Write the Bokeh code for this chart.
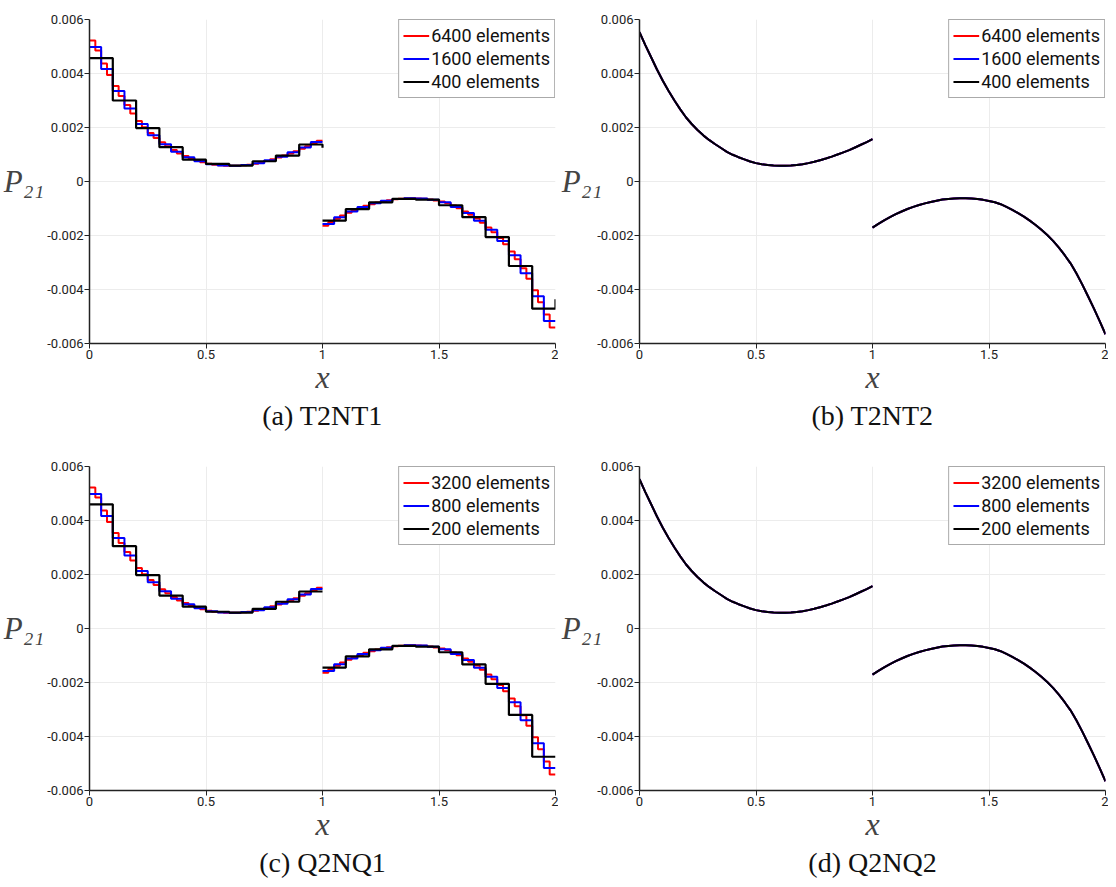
import numpy as np
from bokeh.plotting import figure
from bokeh.layouts import column, row
from bokeh.models import Range1d, FixedTicker, CustomJSTickFormatter, Title
from bokeh.embed import file_html
from bokeh.resources import INLINE

# ---------------- data (values x 1e-3) ----------------
# fine (6400 / 3200 elements) piecewise-constant values, 40 cells per half
red_left = [5.22, 4.85, 4.37, 3.94, 3.54, 3.17, 2.83, 2.52, 2.24, 2.01,
            1.80, 1.61, 1.45, 1.31, 1.17, 1.04, 0.94, 0.86, 0.78, 0.71,
            0.66, 0.62, 0.60, 0.585, 0.58, 0.585, 0.60, 0.625, 0.66, 0.70,
            0.76, 0.82, 0.885, 0.96, 1.04, 1.12, 1.21, 1.31, 1.41, 1.51]
red_right = [-1.64, -1.50, -1.38, -1.26, -1.16, -1.06, -0.98, -0.90, -0.84, -0.78,
             -0.73, -0.69, -0.655, -0.635, -0.625, -0.62, -0.625, -0.64, -0.665, -0.70,
             -0.745, -0.80, -0.89, -0.99, -1.11, -1.23, -1.37, -1.53, -1.70, -1.88,
             -2.09, -2.32, -2.59, -2.88, -3.21, -3.60, -4.03, -4.47, -4.93, -5.41]
# medium (1600 / 800 elements), 20 cells per half
blue_left = [4.98, 4.17, 3.35, 2.70, 2.13, 1.71, 1.38, 1.10, 0.90, 0.75,
             0.64, 0.59, 0.58, 0.61, 0.68, 0.79, 0.92, 1.08, 1.26, 1.46]
blue_right = [-1.57, -1.32, -1.11, -0.94, -0.81, -0.71, -0.645, -0.62, -0.63, -0.68,
              -0.77, -0.94, -1.17, -1.45, -1.79, -2.20, -2.73, -3.40, -4.25, -5.17]
# coarse (400 / 200 elements), 10 cells per half
black_left_a = [4.57, 3.00, 1.98, 1.27, 0.81, 0.65, 0.59, 0.75, 0.96, 1.37]
black_right_a = [-1.45, -1.02, -0.77, -0.64, -0.67, -0.88, -1.32, -2.06, -3.13, -4.71]
black_end_a = [1.25, -4.36]          # small end jumps seen at x=1 and x=2 in (a)
black_left_c = [4.60, 3.05, 1.98, 1.22, 0.81, 0.62, 0.59, 0.73, 0.99, 1.37]
black_right_c = [-1.45, -1.03, -0.77, -0.64, -0.67, -0.88, -1.33, -2.05, -3.20, -4.75]
black_end_c = [1.37, -4.75]

# smooth solutions (continuous elements), sampled every 0.025
smooth_left = [5.53, 5.05, 4.60, 4.15, 3.73, 3.35, 3.00, 2.67, 2.37, 2.12,
               1.90, 1.70, 1.53, 1.38, 1.24, 1.10, 0.99, 0.90, 0.82, 0.74,
               0.68, 0.64, 0.61, 0.59, 0.58, 0.58, 0.59, 0.61, 0.64, 0.68,
               0.73, 0.79, 0.85, 0.92, 1.00, 1.08, 1.16, 1.26, 1.36, 1.46, 1.57]
smooth_right = [-1.71, -1.57, -1.44, -1.32, -1.21, -1.11, -1.02, -0.94, -0.87, -0.81,
                -0.76, -0.71, -0.67, -0.645, -0.63, -0.62, -0.62, -0.63, -0.65, -0.68,
                -0.72, -0.77, -0.84, -0.94, -1.05, -1.17, -1.30, -1.45, -1.61, -1.79,
                -1.98, -2.20, -2.45, -2.73, -3.03, -3.40, -3.81, -4.25, -4.70, -5.17, -5.66]

labels_T = ["6400 elements", "1600 elements", "400 elements"]
labels_Q = ["3200 elements", "800 elements", "200 elements"]
captions = ["(a) T2NT1", "(b) T2NT2", "(c) Q2NQ1", "(d) Q2NQ2"]
y_ticks = [-0.006, -0.004, -0.002, 0.0, 0.002, 0.004, 0.006]
x_ticks = [0, 0.5, 1, 1.5, 2]

RED, BLUE, BLACK = "#ff0000", "#0000ff", "#000000"
SANS = "Roboto"
SERIF = "Liberation Serif"


def make_fig(caption, bottom_border, ylabel_standoff):
    p = figure(frame_width=466, frame_height=324, output_backend="svg", toolbar_location=None,
               x_range=Range1d(0, 2), y_range=Range1d(-0.006, 0.006),
               min_border_left=60, min_border_right=3, min_border_top=19,
               min_border_bottom=bottom_border)
    p.outline_line_color = None
    for ax in (p.xaxis[0], p.yaxis[0]):
        ax.axis_line_color = "#222222"
        ax.axis_line_width = 1.5
        ax.major_tick_line_color = "#222222"
        ax.major_tick_out = 5
        ax.major_tick_in = 0
        ax.minor_tick_line_color = None
        ax.major_label_text_font = SANS
        ax.major_label_text_font_size = "13px"
        ax.major_label_text_color = "#222222"
    p.yaxis.ticker = FixedTicker(ticks=y_ticks)
    p.xaxis.ticker = FixedTicker(ticks=x_ticks)
    p.yaxis.formatter = CustomJSTickFormatter(code="return Math.abs(tick) < 1e-12 ? '0' : tick.toFixed(3);")
    p.xaxis.formatter = CustomJSTickFormatter(code="return String(Math.round(tick*10)/10);")
    p.xaxis.major_label_standoff = 1
    p.yaxis.major_label_standoff = 1
    p.xaxis.axis_label = "x"
    p.xaxis.axis_label_text_font = SERIF
    p.xaxis.axis_label_text_font_style = "italic"
    p.xaxis.axis_label_text_font_size = "32px"
    p.xaxis.axis_label_standoff = -3
    p.yaxis.axis_label = "P₂₁"
    p.yaxis.axis_label_orientation = "horizontal"
    p.yaxis.axis_label_text_font = SERIF
    p.yaxis.axis_label_text_font_style = "italic"
    p.yaxis.axis_label_text_font_size = "31px"
    p.yaxis.axis_label_standoff = ylabel_standoff
    p.grid.grid_line_color = "#ececec"
    p.grid.grid_line_width = 1
    p.add_layout(Title(text=caption, align="center", text_font=SERIF,
                       text_font_size="28px", text_font_style="normal",
                       text_color="#111111", standoff=1), "below")
    return p


def steps(p, vals, x0, h, end, color, label, width=2):
    n = len(vals)
    xs = [x0 + h * i for i in range(n + 1)]
    ys = [v * 1e-3 for v in vals] + [end * 1e-3]
    p.step(xs, ys, mode="after", line_color=color, line_width=width, legend_label=label)


def smooth(p, vals, x0, color, label, width=2):
    xs = [x0 + 0.025 * i for i in range(len(vals))]
    p.line(xs, [v * 1e-3 for v in vals], line_color=color, line_width=width, legend_label=label)


def style_legend(p):
    lg = p.legend[0]
    lg.location = "top_right"
    lg.margin = 0
    lg.padding = 4
    lg.spacing = 0
    lg.label_height = 23
    lg.glyph_height = 23
    lg.glyph_width = 26
    lg.label_standoff = 2
    lg.label_text_font = SANS
    lg.label_text_font_size = "18px"
    lg.label_text_color = "#111111"
    lg.border_line_color = "#555555"
    lg.border_line_width = 1.5
    lg.background_fill_alpha = 1


def discontinuous(caption, labels, bl, br, bend, bottom):
    p = make_fig(caption, bottom, 0)
    steps(p, red_left, 0.0, 0.025, red_left[-1], RED, labels[0])
    steps(p, red_right, 1.0, 0.025, red_right[-1], RED, labels[0])
    steps(p, blue_left, 0.0, 0.05, blue_left[-1], BLUE, labels[1])
    steps(p, blue_right, 1.0, 0.05, blue_right[-1], BLUE, labels[1])
    steps(p, bl, 0.0, 0.1, bend[0], BLACK, labels[2], 2.2)
    steps(p, br, 1.0, 0.1, bend[1], BLACK, labels[2], 2.2)
    style_legend(p)
    return p


def continuous(caption, labels, bottom):
    p = make_fig(caption, bottom, -8)
    for c, lab in ((RED, labels[0]), (BLUE, labels[1]), (BLACK, labels[2])):
        smooth(p, smooth_left, 0.0, c, lab)
        smooth(p, smooth_right, 1.0, c, lab)
    style_legend(p)
    return p


pa = discontinuous(captions[0], labels_T, black_left_a, black_right_a, black_end_a, 104)
pb = continuous(captions[1], labels_T, 104)
pc = discontinuous(captions[2], labels_Q, black_left_c, black_right_c, black_end_c, 94)
pd = continuous(captions[3], labels_Q, 94)

layout = column(row(pa, pb), row(pc, pd))
open("out.html", "w").write(file_html(layout, INLINE))
